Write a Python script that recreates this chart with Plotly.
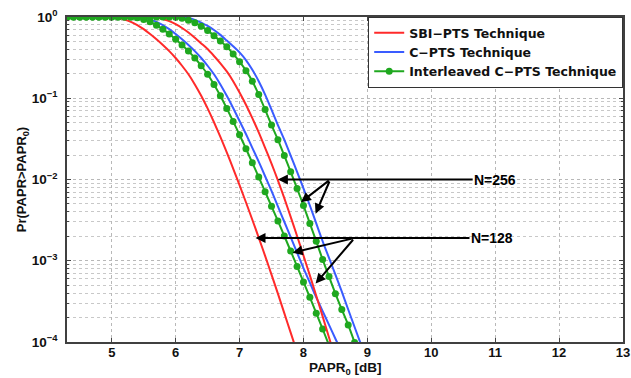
import plotly.graph_objects as go

# ---------------- data (PAPR0 in dB, CCDF given as log10 exponent) -------------
# SBI-PTS, N=128
sbi128_x = [4.3, 4.9, 5.0, 5.1, 5.2, 5.3, 5.4, 5.5, 5.6, 5.7, 5.8, 5.9, 6.0, 6.1, 6.2, 6.3, 6.4, 6.5,
            6.6, 6.7, 6.8, 6.9, 7.0, 7.1, 7.2, 7.3, 7.4, 7.5, 7.6, 7.7, 7.8, 7.85]
sbi128_e = [0, 0, 0, -0.01, -0.03, -0.06, -0.1, -0.15, -0.21, -0.275, -0.345, -0.42, -0.505, -0.6,
            -0.705, -0.83, -0.97, -1.125, -1.295, -1.475, -1.665, -1.865, -2.07, -2.28, -2.495, -2.715,
            -2.94, -3.17, -3.405, -3.645, -3.885, -4.005]
# SBI-PTS, N=256
sbi256_x = [4.3, 5.6, 5.7, 5.8, 5.9, 6.0, 6.1, 6.2, 6.3, 6.4, 6.5, 6.6, 6.7, 6.8, 6.9, 7.0, 7.1, 7.2,
            7.3, 7.4, 7.5, 7.6, 7.7, 7.8, 7.9, 8.0, 8.1, 8.2, 8.3, 8.4, 8.45]
sbi256_e = [0, 0, -0.007, -0.024, -0.05, -0.088, -0.135, -0.19, -0.255, -0.325, -0.395, -0.48, -0.57,
            -0.67, -0.79, -0.93, -1.08, -1.245, -1.42, -1.61, -1.805, -2.01, -2.23, -2.46, -2.695,
            -2.935, -3.18, -3.43, -3.685, -3.945, -4.075]
# C-PTS, N=128
cpts128_x = [4.3, 5.4, 5.5, 5.6, 5.7, 5.8, 5.9, 6.0, 6.1, 6.2, 6.3, 6.4, 6.5, 6.6, 6.7, 6.8, 6.9, 7.0,
             7.1, 7.2, 7.3, 7.4, 7.5, 7.6, 7.7, 7.8, 7.9, 8.0, 8.1, 8.2, 8.3, 8.4, 8.5, 8.55]
cpts128_e = [0, 0, -0.01, -0.03, -0.06, -0.1, -0.15, -0.21, -0.275, -0.345, -0.42, -0.505, -0.6,
             -0.705, -0.83, -0.97, -1.12, -1.28, -1.44, -1.61, -1.78, -1.96, -2.14, -2.33, -2.52,
             -2.71, -2.9, -3.09, -3.27, -3.45, -3.62, -3.79, -3.96, -4.04]
# C-PTS, N=256
cpts256_x = [4.3, 6.0, 6.1, 6.2, 6.3, 6.4, 6.5, 6.6, 6.7, 6.8, 6.9, 7.0, 7.1, 7.2, 7.3, 7.4, 7.5, 7.6,
             7.7, 7.8, 7.9, 8.0, 8.1, 8.2, 8.3, 8.4, 8.5, 8.6, 8.7, 8.8, 8.9]
cpts256_e = [0, 0, -0.002, -0.013, -0.035, -0.068, -0.11, -0.16, -0.22, -0.29, -0.36, -0.435, -0.53,
             -0.65, -0.79, -0.955, -1.14, -1.33, -1.51, -1.705, -1.905, -2.11, -2.32, -2.54, -2.76,
             -2.965, -3.17, -3.38, -3.6, -3.815, -4.03]
# Interleaved C-PTS, N=128 (one marker every 0.1 dB)
icpts128_x = [4.3, 4.4, 4.5, 4.6, 4.7, 4.8, 4.9, 5.0, 5.1, 5.2, 5.3, 5.4, 5.5, 5.6, 5.7, 5.8, 5.9, 6.0,
              6.1, 6.2, 6.3, 6.4, 6.5, 6.6, 6.7, 6.8, 6.9, 7.0, 7.1, 7.2, 7.3, 7.4, 7.5, 7.6, 7.7, 7.8,
              7.9, 8.0, 8.1, 8.2, 8.3, 8.4]
icpts128_e = [0, 0, 0, 0, 0, 0, 0, 0, 0, 0, 0, -0.01, -0.03, -0.06, -0.1, -0.15, -0.21, -0.275, -0.345,
              -0.42, -0.505, -0.6, -0.705, -0.83, -0.97, -1.125, -1.285, -1.45, -1.62, -1.795, -1.97,
              -2.15, -2.33, -2.51, -2.695, -2.88, -3.07, -3.26, -3.45, -3.645, -3.84, -4.04]
# Interleaved C-PTS, N=256
icpts256_x = [4.3, 4.4, 4.5, 4.6, 4.7, 4.8, 4.9, 5.0, 5.1, 5.2, 5.3, 5.4, 5.5, 5.6, 5.7, 5.8, 5.9, 6.0,
              6.1, 6.2, 6.3, 6.4, 6.5, 6.6, 6.7, 6.8, 6.9, 7.0, 7.1, 7.2, 7.3, 7.4, 7.5, 7.6, 7.7, 7.8,
              7.9, 8.0, 8.1, 8.2, 8.3, 8.4, 8.5, 8.6, 8.7, 8.8]
icpts256_e = [0, 0, 0, 0, 0, 0, 0, 0, 0, 0, 0, 0, 0, 0, 0, 0, 0, -0.003, -0.016, -0.039, -0.07, -0.115,
              -0.165, -0.23, -0.295, -0.365, -0.455, -0.55, -0.66, -0.79, -0.955, -1.14, -1.33, -1.51,
              -1.705, -1.905, -2.11, -2.32, -2.54, -2.76, -2.985, -3.195, -3.405, -3.6, -3.79, -4.005]

x_ticks = [5, 6, 7, 8, 9, 10, 11, 12, 13]
y_ticks = [1, 0.1, 0.01, 0.001, 0.0001]
y_tick_text = ["10<sup>0</sup>", "10<sup>\u22121</sup>", "10<sup>\u22122</sup>",
               "10<sup>\u22123</sup>", "10<sup>\u22124</sup>"]

RED = "#ff2a2a"
BLUE = "#3a5cff"
GREEN = "#1fa81f"


def pw(ex):
    return [10 ** v for v in ex]


line_kw = dict(width=2, shape="spline", smoothing=0.6)

fig = go.Figure()
fig.add_trace(go.Scatter(x=sbi128_x, y=pw(sbi128_e), mode="lines", line=dict(color=RED, **line_kw),
                         name="SBI\u2212PTS Technique", legendgroup="sbi"))
fig.add_trace(go.Scatter(x=cpts128_x, y=pw(cpts128_e), mode="lines", line=dict(color=BLUE, **line_kw),
                         name="C\u2212PTS Technique", legendgroup="cpts"))
fig.add_trace(go.Scatter(x=icpts128_x, y=pw(icpts128_e), mode="lines+markers",
                         line=dict(color=GREEN, **line_kw), marker=dict(color=GREEN, size=7),
                         name="Interleaved C\u2212PTS Technique", legendgroup="icpts"))
fig.add_trace(go.Scatter(x=sbi256_x, y=pw(sbi256_e), mode="lines", line=dict(color=RED, **line_kw),
                         name="SBI\u2212PTS Technique", legendgroup="sbi", showlegend=False))
fig.add_trace(go.Scatter(x=cpts256_x, y=pw(cpts256_e), mode="lines", line=dict(color=BLUE, **line_kw),
                         name="C\u2212PTS Technique", legendgroup="cpts", showlegend=False))
fig.add_trace(go.Scatter(x=icpts256_x, y=pw(icpts256_e), mode="lines+markers",
                         line=dict(color=GREEN, **line_kw), marker=dict(color=GREEN, size=7),
                         name="Interleaved C\u2212PTS Technique", legendgroup="icpts", showlegend=False))

# annotations (log axis => y given as log10)
arrow_common = dict(xref="x", yref="y", axref="x", ayref="y", showarrow=True, arrowhead=2,
                    arrowsize=1, arrowwidth=2, arrowcolor="black", standoff=0, startstandoff=0)
fig.add_annotation(x=7.6, y=-2.0, ax=11.0, ay=-2.0, text="<b>N=256</b>",
                   font=dict(size=14, color="black"), **arrow_common)
fig.add_annotation(x=7.96, y=-2.28, ax=8.42, ay=-2.0, text=" ", font=dict(size=1), **arrow_common)
fig.add_annotation(x=8.19, y=-2.42, ax=8.42, ay=-2.0, text=" ", font=dict(size=1), **arrow_common)
fig.add_annotation(x=7.25, y=-2.72, ax=10.95, ay=-2.72, text="<b>N=128</b>",
                   font=dict(size=14, color="black"), **arrow_common)
fig.add_annotation(x=7.83, y=-2.9, ax=8.8, ay=-2.72, text=" ", font=dict(size=1), **arrow_common)
fig.add_annotation(x=8.19, y=-3.28, ax=8.8, ay=-2.72, text=" ", font=dict(size=1), **arrow_common)

# x-axis title placed as a paper annotation for precise vertical placement
fig.add_annotation(xref="paper", yref="paper", x=0.5, y=-0.1108, xanchor="center", yanchor="bottom",
                   text="<b>PAPR<sub>0</sub> [dB]</b>", showarrow=False, borderpad=0,
                   font=dict(size=13.5, color="#111"))

grid = dict(showgrid=True, gridcolor="#b8b8b8", griddash="dot", gridwidth=1)
fig.update_xaxes(range=[4.3, 13], tickvals=x_ticks, ticks="inside", ticklen=4, mirror="ticks",
                 showline=True, linecolor="#404040", linewidth=1.5, zeroline=False, automargin=False,
                 tickfont=dict(size=13, color="#111"), ticklabelstandoff=-2,
                 **grid)
fig.update_yaxes(type="log", range=[-4, 0], tickvals=y_ticks, ticktext=y_tick_text, automargin=False,
                 ticks="inside", ticklen=4, mirror="ticks", showline=True, linecolor="#404040",
                 linewidth=1.5, tickfont=dict(size=13.5, color="#111"), ticklabelstandoff=5,
                 minor=dict(dtick="D1", showgrid=True, gridcolor="#c8c8c8", griddash="dot",
                            ticks="inside", ticklen=2),
                 title=dict(text="<b>Pr(PAPR>PAPR<sub>0</sub>)</b>", font=dict(size=13, color="#111"),
                            standoff=2),
                 **grid)

fig.update_layout(
    width=631, height=378,
    margin=dict(l=67, r=8, t=17, b=36, autoexpand=False),
    paper_bgcolor="white", plot_bgcolor="white",
    font=dict(family="Liberation Sans, Arial, sans-serif", weight="bold", color="#111"),
    showlegend=True,
    legend=dict(x=1, y=1, xanchor="right", yanchor="top", bgcolor="white",
                bordercolor="#333", borderwidth=1.2,
                font=dict(family="DejaVu Sans", size=12.5, color="#111", weight="bold"),
                tracegroupgap=0, itemwidth=30),
)

fig.write_html("out.html")
